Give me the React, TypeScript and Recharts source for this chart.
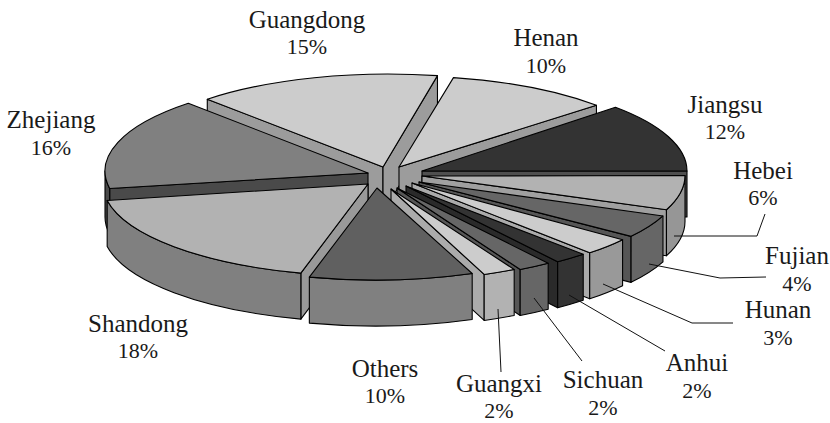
import React from 'react';
import { PieChart, Pie } from 'recharts';

const provinces = ['Henan','Jiangsu','Hebei','Fujian','Hunan','Anhui','Sichuan','Guangxi','Others','Shandong','Zhejiang','Guangdong'];
const shares = [10,12,6,4,3,2,2,2,10,18,16,15];
const data = provinces.map((name, i) => ({ name, value: shares[i] }));

// painter's order, back to front
const drawOrder = ['Guangdong','Henan','Jiangsu','Zhejiang','Hebei','Fujian','Hunan','Anhui','Sichuan','Guangxi','Shandong','Others'];

const SQUASH = 93 / 264;
const DEPTH = 46;
const CX = 395;
const CY = 178;

// per-slice styling: rim-centre explode (dx,dy), apex explode (ax,ay), top / rim / wall greys
const sliceStyle: Record<string, { dx: number; dy: number; ax: number; ay: number; top: string; rim: string; wall: string }> = {
  Henan: { dx: 9, dy: -9, ax: 4, ay: -11, top: '#cccccc', rim: '#9c9c9c', wall: '#9c9c9c' },
  Jiangsu: { dx: 28, dy: -7, ax: 27, ay: -7, top: '#333333', rim: '#4f4f4f', wall: '#4f4f4f' },
  Hebei: { dx: 26, dy: -2.5, ax: 27, ay: -2, top: '#b2b2b2', rim: '#969696', wall: '#a0a0a0' },
  Fujian: { dx: 22.5, dy: 3.7, ax: 24, ay: 4, top: '#666666', rim: '#666666', wall: '#565656' },
  Hunan: { dx: 14, dy: 7, ax: 17, ay: 5, top: '#cccccc', rim: '#999999', wall: '#ababab' },
  Anhui: { dx: 7.5, dy: 8.5, ax: 11, ay: 8, top: '#333333', rim: '#333333', wall: '#2a2a2a' },
  Sichuan: { dx: -2, dy: 10, ax: 2, ay: 10, top: '#666666', rim: '#666666', wall: '#565656' },
  Guangxi: { dx: -8, dy: 10, ax: -4, ay: 11, top: '#cccccc', rim: '#b2b2b2', wall: '#ababab' },
  Others: { dx: -20, dy: 9, ax: -18, ay: 10, top: '#606060', rim: '#808080', wall: '#808080' },
  Shandong: { dx: -28.5, dy: 5, ax: -27, ay: 6, top: '#b2b2b2', rim: '#808080', wall: '#999999' },
  Zhejiang: { dx: -26, dy: -7, ax: -27, ay: -5, top: '#808080', rim: '#4a4a4a', wall: '#4a4a4a' },
  Guangdong: { dx: -7, dy: -11, ax: -12, ay: -11, top: '#cccccc', rim: '#9c9c9c', wall: '#9c9c9c' },
};

// label anchors (centre x, line-1 baseline, line-2 baseline)
const labelLayout: Record<string, { x: number; y1: number; y2: number }> = {
  Guangdong: { x: 307, y1: 28, y2: 54 },
  Henan: { x: 546, y1: 46, y2: 73 },
  Jiangsu: { x: 725, y1: 113, y2: 139 },
  Hebei: { x: 763, y1: 179, y2: 205 },
  Zhejiang: { x: 51, y1: 128, y2: 155 },
  Shandong: { x: 138, y1: 332, y2: 358 },
  Others: { x: 385, y1: 377, y2: 403 },
  Guangxi: { x: 499, y1: 392, y2: 418 },
  Sichuan: { x: 603, y1: 388, y2: 415 },
  Anhui: { x: 697, y1: 371, y2: 398 },
  Hunan: { x: 778, y1: 318, y2: 345 },
  Fujian: { x: 797, y1: 264, y2: 291 },
};
const leaders: Record<string, number[][]> = {
  Hebei: [[674, 236], [757, 236], [765, 214]],
  Fujian: [[649, 264], [720, 278], [766, 277]],
  Hunan: [[603, 284], [692, 323], [733, 323]],
  Anhui: [[569, 295], [665, 351]],
  Sichuan: [[534, 298], [582, 361]],
  Guangxi: [[498, 309], [501, 372]],
};

const RAD = Math.PI / 180;

const makeSlice = (only: string) => (props: any) => {
  const name = props.name ?? props.payload?.name;
  if (name !== only) return <g />;
  const st = sliceStyle[name];
  const rx = props.outerRadius;
  const ry = rx * SQUASH;
  const x0 = props.cx + st.dx;
  const y0 = props.cy + st.dy;
  const ax = props.cx + st.ax;
  const ay = props.cy + st.ay;
  const s = props.startAngle;
  const e = props.endAngle;
  const pt = (a: number) => [x0 + rx * Math.cos(a * RAD), y0 - ry * Math.sin(a * RAD)];
  const ps = pt(s);
  const pe = pt(e);
  const large = Math.abs(s - e) > 180 ? 1 : 0;
  const topPath = `M${ax},${ay} L${ps[0]},${ps[1]} A${rx},${ry} 0 ${large} 1 ${pe[0]},${pe[1]} Z`;
  const wallPath = (a: number) => {
    const p = pt(a);
    return `M${ax},${ay} L${p[0]},${p[1]} L${p[0]},${p[1] + DEPTH} L${ax},${ay + DEPTH} Z`;
  };
  const walls: string[] = [];
  if (Math.cos(s * RAD) < 0) walls.push(wallPath(s));
  if (Math.cos(e * RAD) > 0) walls.push(wallPath(e));
  const hi = Math.min(s, 0);
  const lo = Math.max(e, -180);
  let rim = null;
  if (hi > lo) {
    const a = pt(hi);
    const b = pt(lo);
    const d = `M${a[0]},${a[1]} A${rx},${ry} 0 0 1 ${b[0]},${b[1]} L${b[0]},${b[1] + DEPTH} A${rx},${ry} 0 0 0 ${a[0]},${a[1] + DEPTH} Z`;
    rim = <path d={d} fill={st.rim} stroke="#000" strokeWidth={1.1} strokeLinejoin="round" />;
  }
  return (
    <g>
      {walls.map((d, i) => (
        <path key={i} d={d} fill={st.wall} stroke="#000" strokeWidth={1.1} strokeLinejoin="round" />
      ))}
      {rim}
      <path d={topPath} fill={st.top} stroke="#000" strokeWidth={1.1} strokeLinejoin="round" />
    </g>
  );
};

const FONT = "'Liberation Serif', serif";

const renderLabel = (props: any) => {
  const name = props.name ?? props.payload?.name;
  const l = labelLayout[name];
  const value = props.value ?? props.payload?.value;
  const lead = leaders[name];
  return (
    <g key={name}>
      {lead && (
        <polyline points={lead.map((p) => p.join(',')).join(' ')} fill="none" stroke="#111" strokeWidth={1} />
      )}
      <text x={l.x} y={l.y1} textAnchor="middle" fontFamily={FONT} fontSize={25} fill="#1a1a1a">{name}</text>
      <text x={l.x} y={l.y2} textAnchor="middle" fontFamily={FONT} fontSize={22} fill="#1a1a1a">{value}%</text>
    </g>
  );
};

export default function App() {
  return (
    <div style={{ position: 'absolute', left: 0, top: 0, width: 830, height: 423, background: '#fff' }}>
      <PieChart width={830} height={423} margin={{ top: 0, right: 0, bottom: 0, left: 0 }}>
        {drawOrder.map((only) => {
          const sh = makeSlice(only);
          return (
            <Pie
              key={only}
              data={data}
              dataKey="value"
              nameKey="name"
              cx={CX}
              cy={CY}
              innerRadius={0}
              outerRadius={264}
              startAngle={79.2}
              endAngle={-280.8}
              paddingAngle={0}
              isAnimationActive={false}
              shape={sh}
              inactiveShape={sh}
              activeShape={sh}
              label={false}
              labelLine={false}
            />
          );
        })}
        <Pie
          data={data}
          dataKey="value"
          nameKey="name"
          cx={CX}
          cy={CY}
          outerRadius={264}
          startAngle={79.2}
          endAngle={-280.8}
          isAnimationActive={false}
          shape={() => <g />}
          inactiveShape={() => <g />}
          activeShape={() => <g />}
          label={renderLabel}
          labelLine={false}
        />
      </PieChart>
    </div>
  );
}
